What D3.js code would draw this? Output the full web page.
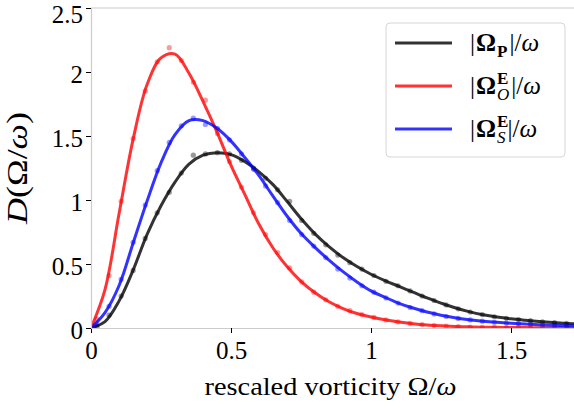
<!DOCTYPE html>
<html>
<head>
<meta charset="utf-8">
<script src="https://cdn.jsdelivr.net/npm/d3@7"></script>
<style>
  body { margin: 0; background: #fff; }
  svg { display: block; }
  text { font-family: 'Liberation Serif', 'DejaVu Serif', serif; }
</style>
</head>
<body>
<div id="chart"></div>
<script>
// smooth fit, read on a 0.05 grid
const fitX = [0, 0.05, 0.1, 0.15, 0.2, 0.25, 0.3, 0.35, 0.4, 0.45, 0.5, 0.55, 0.6, 0.65, 0.7, 0.75, 0.8, 0.85,
  0.9, 0.95, 1.0, 1.05, 1.1, 1.15, 1.2, 1.25, 1.3, 1.35, 1.4, 1.45, 1.5, 1.55, 1.6, 1.65, 1.7, 1.75]
const fitP = [0, 0.05, 0.21, 0.45, 0.73, 0.955, 1.14, 1.28, 1.35, 1.37, 1.355, 1.3, 1.22, 1.12, 0.99, 0.855, 0.735,
  0.635, 0.55, 0.48, 0.42, 0.37, 0.325, 0.28, 0.235, 0.195, 0.158, 0.128, 0.104, 0.086, 0.072, 0.061, 0.051,
  0.043, 0.036, 0.03]
const fitO = [0, 0.3, 0.89, 1.47, 1.9, 2.11, 2.14, 1.99, 1.77, 1.53, 1.27, 1.04, 0.81, 0.625, 0.48, 0.365, 0.275,
  0.205, 0.152, 0.113, 0.086, 0.065, 0.047, 0.034, 0.024, 0.017, 0.012, 0.009, 0.006, 0.005, 0.004, 0.003,
  0.002, 0.002, 0.001, 0.001]
const fitS = [0, 0.12, 0.33, 0.66, 0.99, 1.29, 1.51, 1.62, 1.62, 1.56, 1.46, 1.33, 1.19, 1.03, 0.875, 0.74, 0.63,
  0.53, 0.44, 0.36, 0.29, 0.24, 0.193, 0.156, 0.125, 0.1, 0.08, 0.065, 0.053, 0.044, 0.037, 0.031, 0.026,
  0.022, 0.018, 0.015]

// histogram points at bin centres
const binX = [0.0215, 0.0645, 0.1075, 0.1505, 0.1935, 0.2365, 0.2795, 0.3225, 0.3655, 0.4085, 0.4515, 0.4945,
  0.5375, 0.5805, 0.6235, 0.6665, 0.7095, 0.7525, 0.7955, 0.8385, 0.8815, 0.9245, 0.9675, 1.0105, 1.0535,
  1.0965, 1.1395, 1.1825, 1.2255, 1.2685, 1.3115, 1.3545, 1.3975, 1.4405, 1.4835, 1.5265, 1.5695, 1.6125,
  1.6555, 1.6985]
const histP = [0.01, 0.1, 0.25, 0.45, 0.7, 0.9, 1.06, 1.21, 1.35, 1.36, 1.37, 1.36, 1.31, 1.25, 1.17, 1.08, 0.99,
  0.84, 0.74, 0.65, 0.57, 0.51, 0.46, 0.41, 0.365, 0.33, 0.29, 0.25, 0.215, 0.18, 0.15, 0.125, 0.105, 0.088,
  0.076, 0.066, 0.057, 0.049, 0.042, 0.036]
const histO = [0.07, 0.41, 0.99, 1.48, 1.85, 2.08, 2.19, 2.09, 1.92, 1.78, 1.52, 1.3, 1.1, 0.9, 0.73, 0.59, 0.47,
  0.36, 0.28, 0.22, 0.17, 0.135, 0.105, 0.083, 0.063, 0.048, 0.036, 0.027, 0.02, 0.015, 0.011, 0.008, 0.006,
  0.005, 0.004, 0.003, 0.002, 0.002, 0.001, 0.001]
const histS = [0.03, 0.17, 0.38, 0.67, 0.96, 1.23, 1.45, 1.58, 1.64, 1.59, 1.56, 1.47, 1.36, 1.24, 1.11, 0.98,
  0.84, 0.73, 0.64, 0.55, 0.46, 0.39, 0.33, 0.28, 0.235, 0.195, 0.16, 0.135, 0.11, 0.09, 0.075, 0.063, 0.053,
  0.045, 0.039, 0.033, 0.029, 0.025, 0.021, 0.018]

const xTicks = [0, 0.5, 1, 1.5]
const yTicks = [0, 0.5, 1, 1.5, 2, 2.5]

// legend labels: sub = subscript, sup = superscript stacked over sub
const series = [
  { fit: fitP, hist: histP, color: '#000', sub: 'P', subStyle: 'bold' },
  { fit: fitO, hist: histO, color: '#ff0000', sup: 'E', sub: 'O', subStyle: 'italic' },
  { fit: fitS, hist: histS, color: '#0000ff', sup: 'E', sub: 'S', subStyle: 'italic' }
]

const chartWidth = 574
const chartHeight = 408
const margin = { top: 8, bottom: 80, left: 91, right: 0 }
const width = chartWidth - margin.left - margin.right
const height = chartHeight - margin.top - margin.bottom

const svg = d3.select('#chart')
  .append('svg')
  .attr('width', chartWidth)
  .attr('height', chartHeight)
  .append('g')
  .attr('transform', `translate(${margin.left}, ${margin.top})`)

const x = d3.scaleLinear().domain([0, 1.725]).range([0, width])
const y = d3.scaleLinear().domain([0, 2.5]).range([height, 0])

svg.append('defs').append('clipPath').attr('id', 'clip')
  .append('rect').attr('width', width).attr('height', height)

const plot = svg.append('g').attr('clip-path', 'url(#clip)')

series.forEach((s) => {
  plot.append('g')
    .selectAll('circle')
    .data(binX)
    .join('circle')
    .attr('cx', (d) => x(d))
    .attr('cy', (d, i) => y(s.hist[i]))
    .attr('r', 2.6)
    .attr('fill', s.color)
    .attr('opacity', 0.4)
})

const line = d3.line()
  .x((d) => x(d[0]))
  .y((d) => y(d[1]))
  .curve(d3.curveCatmullRom.alpha(0.5))

series.forEach((s) => {
  plot.append('path')
    .datum(fitX.map((d, i) => [d, s.fit[i]]))
    .attr('d', line)
    .attr('fill', 'none')
    .attr('stroke', s.color)
    .attr('stroke-opacity', 0.8)
    .attr('stroke-width', 3)
})

// spines
svg.append('line').attr('x1', 0).attr('x2', width).attr('y1', 0).attr('y2', 0)
  .attr('stroke', '#cccccc').attr('stroke-width', 1.2)

const xAxis = svg.append('g')
  .attr('transform', `translate(0, ${height})`)
  .call(d3.axisBottom(x).tickValues(xTicks).tickSize(5).tickPadding(8).tickFormat(d3.format('~g')))
const yAxis = svg.append('g')
  .call(d3.axisLeft(y).tickValues(yTicks).tickSize(5).tickPadding(3).tickFormat(d3.format('~g')))

for (const a of [xAxis, yAxis]) {
  a.select('.domain').attr('stroke', '#cccccc').attr('stroke-width', 1.2)
  a.selectAll('.tick line').attr('stroke', '#000').attr('stroke-width', 1)
  a.selectAll('.tick text').attr('font-family', "'Liberation Serif', serif").attr('font-size', 25).attr('fill', '#000')
}
yAxis.selectAll('.tick text')
  .attr('dy', '0.32em')
  .attr('y', (d) => (d === 2.5 ? 6 : 2))

const xlab = svg.append('text')
  .attr('x', width / 2 - 2)
  .attr('y', 395 - margin.top)
  .attr('text-anchor', 'middle')
  .attr('font-size', 26)
  .attr('textLength', 252)
  .attr('lengthAdjust', 'spacingAndGlyphs')
  .text('rescaled vorticity Ω/')
xlab.append('tspan').attr('font-style', 'italic').text('ω')

const ylab = svg.append('text')
  .attr('transform', `translate(${27 - margin.left}, ${height / 2})rotate(-90)`)
  .attr('text-anchor', 'middle')
  .attr('font-size', 29)
  .attr('textLength', 112)
  .attr('lengthAdjust', 'spacingAndGlyphs')
ylab.append('tspan').attr('font-style', 'italic').text('D')
ylab.append('tspan').text('(Ω/')
ylab.append('tspan').attr('font-style', 'italic').text('ω')
ylab.append('tspan').text(')')

// legend
const legend = svg.append('g').attr('transform', `translate(${386 - margin.left}, ${23 - margin.top})`)
legend.append('rect')
  .attr('width', 179).attr('height', 134).attr('rx', 4)
  .attr('fill', '#fff').attr('fill-opacity', 0.8)
  .attr('stroke', '#d6d6d6').attr('stroke-width', 1)

series.forEach((s, i) => {
  const cy = 20 + i * 43
  legend.append('line')
    .attr('x1', 9).attr('x2', 66).attr('y1', cy).attr('y2', cy)
    .attr('stroke', s.color).attr('stroke-opacity', 0.8).attr('stroke-width', 3)
  const t = legend.append('text').attr('x', 84).attr('y', cy + 8).attr('font-size', 25)
  t.append('tspan').text('|')
  t.append('tspan').attr('dx', 1).attr('font-weight', 'bold').text('Ω')
  let back = 0
  if (s.sup) {
    const sup = t.append('tspan').attr('dx', 1).attr('dy', -10).attr('font-size', 17).attr('font-weight', 'bold').text(s.sup)
    back = sup.node().getComputedTextLength()
  }
  t.append('tspan')
    .attr('dx', s.sup ? -back : 1)
    .attr('dy', s.sup ? 16 : 6)
    .attr('font-size', 17)
    .attr('font-weight', s.subStyle === 'bold' ? 'bold' : null)
    .attr('font-style', s.subStyle === 'italic' ? 'italic' : null)
    .text(s.sub)
  t.append('tspan').attr('dx', 2).attr('dy', -6).text('|/')
  t.append('tspan').attr('font-style', 'italic').text('ω')
})
</script>
</body>
</html>
